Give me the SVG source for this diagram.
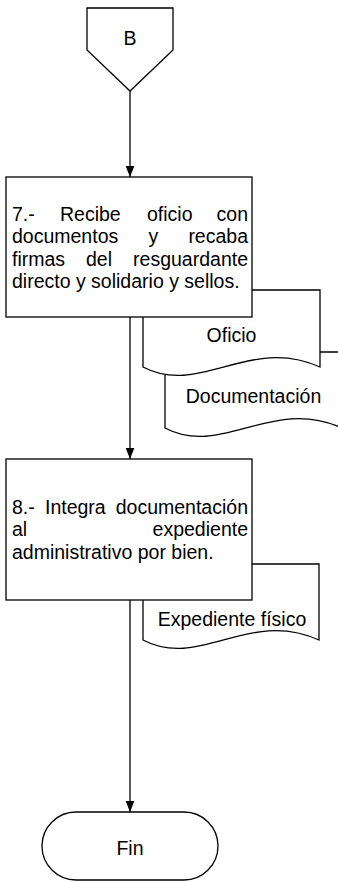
<svg xmlns="http://www.w3.org/2000/svg" width="338" height="882" viewBox="0 0 338 882">
<style>
.s{fill:#fff;stroke:#000;stroke-width:1.3}
.t{font-family:"Liberation Sans",Arial,sans-serif;font-size:19.5px;fill:#000}
.c{text-anchor:middle}
.e{text-anchor:end}
.l{fill:none;stroke:#000;stroke-width:1.3}
</style>
<defs>
<marker id="ah" markerWidth="11" markerHeight="14" refX="14" refY="5.5" viewBox="0 0 14 11" markerUnits="userSpaceOnUse" orient="auto">
<path d="M0,0 L14,5.5 L0,11 Z" fill="#000"/>
</marker>
</defs>
<g id="connectors">
<line class="l" x1="130" y1="91" x2="130" y2="177" marker-end="url(#ah)"/>
<line class="l" x1="130" y1="317" x2="130" y2="459" marker-end="url(#ah)"/>
<line class="l" x1="130" y1="600" x2="130" y2="812" marker-end="url(#ah)"/>
</g>
<g id="B">
<path class="s" d="M87,8 H173 V50 L130,91 L87,50 Z"/>
<text class="t c" x="130" y="45">B</text>
</g>
<g id="documentacion">
<path class="s" d="M165,352 H342 V428 C272,396 222,458 165,428 Z"/>
<text class="t c" x="253.5" y="403">Documentación</text>
</g>
<g id="oficio">
<path class="s" d="M143,290 H320 V367 C250,335 200,397 143,367 Z"/>
<text class="t c" x="231.5" y="342">Oficio</text>
</g>
<g id="paso7">
<rect class="s" x="6" y="177" width="246" height="140"/>
<text class="t" y="220.5"><tspan x="12">7.-</tspan><tspan x="60">Recibe</tspan><tspan x="147">oficio</tspan><tspan x="248" class="e">con</tspan></text>
<text class="t" y="243"><tspan x="12">documentos</tspan><tspan x="148.5">y</tspan><tspan x="248" class="e">recaba</tspan></text>
<text class="t" y="265.5"><tspan x="12">firmas</tspan><tspan x="86">del</tspan><tspan x="248" class="e">resguardante</tspan></text>
<text class="t" x="12" y="287.5">directo y solidario y sellos.</text>
</g>
<g id="expediente">
<path class="s" d="M143,564 H319 V640 C249,608 200,670 143,640 Z"/>
<text class="t c" x="232" y="626">Expediente físico</text>
</g>
<g id="paso8">
<rect class="s" x="6" y="459" width="246" height="141"/>
<text class="t" y="513.5"><tspan x="12">8.-</tspan><tspan x="45">Integra</tspan><tspan x="248" class="e">documentación</tspan></text>
<text class="t" y="536"><tspan x="12">al</tspan><tspan x="248" class="e">expediente</tspan></text>
<text class="t" x="12" y="558.5">administrativo por bien.</text>
</g>
<g id="fin">
<path class="s" d="M76,812 H184 A34,34 0 0 1 184,880 H76 A34,34 0 0 1 76,812 Z"/>
<text class="t c" x="130" y="855">Fin</text>
</g>
</svg>
